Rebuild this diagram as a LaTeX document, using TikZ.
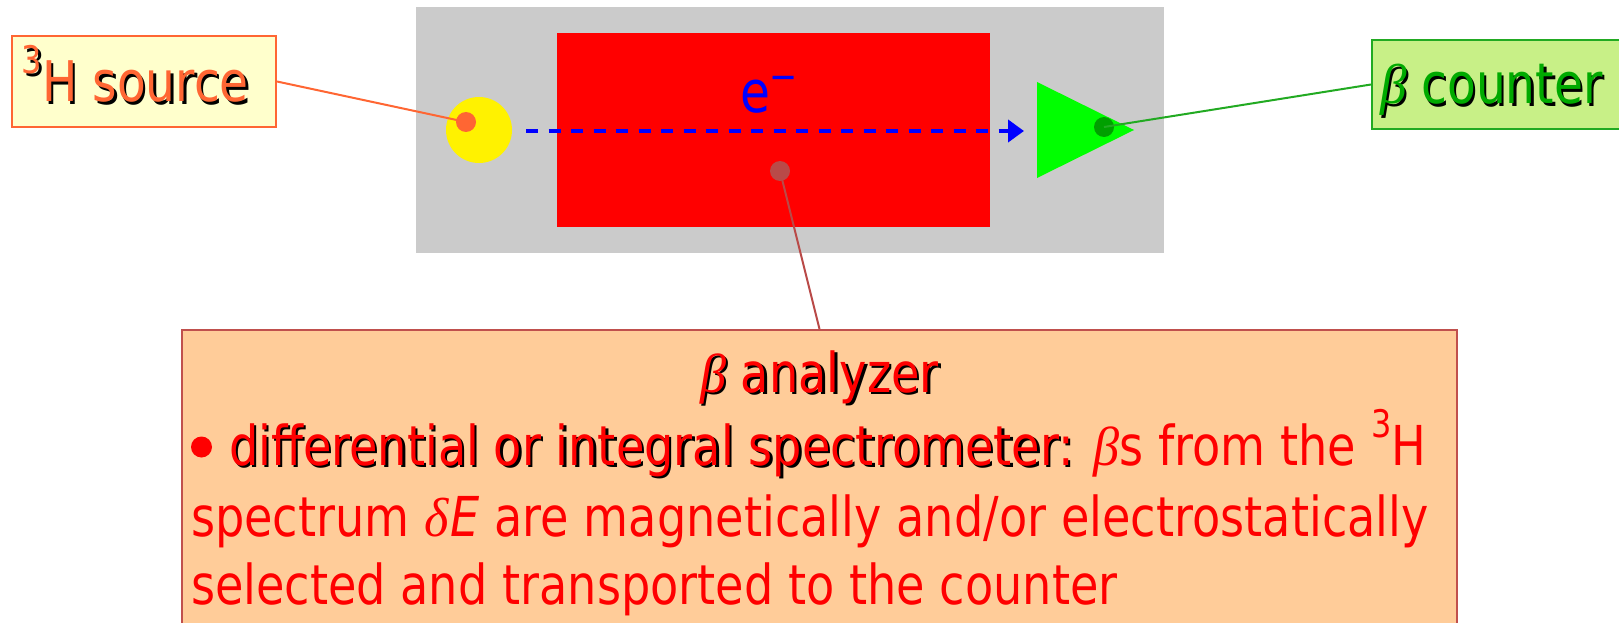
\documentclass[tikz,border=0pt]{standalone}
\usepackage{fontspec}
\setmainfont{DejaVu Sans}[FakeStretch=0.84]
\newfontfamily\grk{Liberation Serif}[FakeStretch=0.95]
\usetikzlibrary{arrows.meta}
\definecolor{gbox}{HTML}{CBCBCB}
\definecolor{srcfill}{HTML}{FFFFCC}
\definecolor{srcline}{HTML}{FF6633}
\definecolor{cntfill}{HTML}{C8F087}
\definecolor{cntline}{HTML}{22AA22}
\definecolor{cnttext}{HTML}{00AA00}
\definecolor{anafill}{HTML}{FFCC99}
\definecolor{analine}{HTML}{C0504D}
\definecolor{dotbrown}{HTML}{B94A48}
\definecolor{dotgreen}{HTML}{00A000}
\newcommand{\shd}[2]{\rlap{\kern2.5pt\raisebox{-2.5pt}{\color{black}#2}}{\color{#1}#2}}
\newcommand{\bet}{{\grk\itshape β}}
\tikzset{
  lbl/.style={inner sep=0pt, outer sep=0pt},
  conn/.style={line width=2pt},
  dotmark/.style={circle, inner sep=0pt, minimum size=20pt},
}
\begin{document}
\begin{tikzpicture}[x=1pt,y=-1pt]
\useasboundingbox (0,0) rectangle (1619,623);
\clip (0,0) rectangle (1619,623);
% apparatus
\fill[gbox] (416,7) rectangle (1164,253);
\fill[red] (557,33) rectangle (990,227);
\node[circle, fill=yellow, minimum size=66pt, inner sep=0pt] (src) at (479,130) {};
\node[lbl, anchor=base west, text=blue, font=\fontsize{58}{60}\selectfont] (el) at (740,113) {e\raisebox{0.38em}{\fontsize{40}{40}\selectfont −}};
\fill[green] (1037,82) -- (1037,178) -- (1134,130) -- cycle;
\coordinate (beamA) at (526,131);
\coordinate (beamB) at (1024,131);
\draw[blue, line width=4pt, dash pattern=on 12pt off 10.5pt, -{Triangle[length=16pt,width=22pt]}] (beamA) -- (beamB);
\node[dotmark, fill=srcline] (d1) at (466,122) {};
\node[dotmark, fill=dotbrown] (d2) at (780,171) {};
\node[dotmark, fill=dotgreen] (d3) at (1104,127) {};
% label boxes
\node[draw=srcline, fill=srcfill, line width=2pt, minimum width=264pt, minimum height=91pt, inner sep=0pt] (srcbox) at (144,81.5) {};
\node[lbl, anchor=base west, font=\fontsize{56}{60}\selectfont] (srctxt) at (22,102) {\shd{srcline}{\raisebox{0.5em}{\fontsize{38}{40}\selectfont 3}H source}};
\node[draw=cntline, fill=cntfill, line width=2pt, minimum width=253pt, minimum height=89pt, inner sep=0pt] (cntbox) at (1498.5,84.5) {};
\node[lbl, anchor=base west, font=\fontsize{56}{60}\selectfont] (cnttxt) at (1380,104) {\shd{cnttext}{\bet{} counter}};
\node[draw=analine, fill=anafill, line width=2pt, minimum width=1275pt, minimum height=320pt, inner sep=0pt, anchor=north] (ana) at (819.5,329) {};
\begin{scope}[font=\fontsize{55}{60}\selectfont]
\node[lbl, anchor=base] (t0) at (819.5,392) {\shd{red}{\bet{} analyzer}};
\node[circle, fill=red, minimum size=21pt, inner sep=0pt] (bul) at (201.5,447) {};
\node[lbl, anchor=base west] (t1) at (229,465) {\shd{red}{differential or integral spectrometer:} \color{red}\bet{}s from the \raisebox{0.5em}{\fontsize{38}{40}\selectfont 3}H};
\node[lbl, anchor=base west, text=red] (t2) at (191,536) {spectrum {\grk\itshape δ}\kern2pt{\itshape E} are magnetically and/or electrostatically};
\node[lbl, anchor=base west, text=red] (t3) at (191,604) {selected and transported to the counter};
\end{scope}
% connectors
\draw[conn, srcline] (d1.center) -- (srcbox.east);
\draw[conn, cntline] (d3.center) -- (cntbox.west);
\draw[conn, dotbrown] (d2.center) -- (ana.north);
\end{tikzpicture}
\end{document}
